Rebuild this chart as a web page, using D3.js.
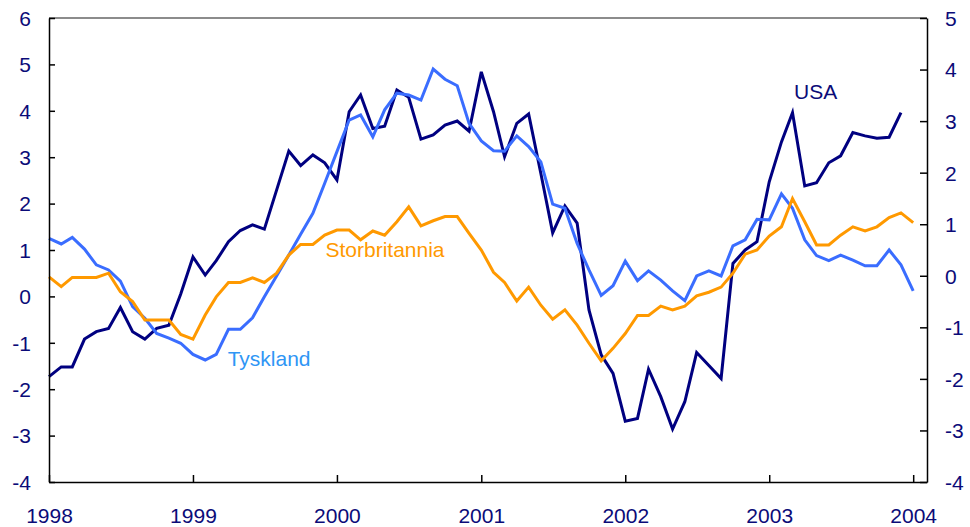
<!DOCTYPE html>
<html>
<head>
<meta charset="utf-8">
<script src="https://cdn.jsdelivr.net/npm/d3@7"></script>
<style>
  body { margin: 0; background: #fff; }
  svg { display: block; font-family: Arial, "Liberation Sans", sans-serif; }
  .tick text { fill: #0b0b78; font-size: 21px; }
</style>
</head>
<body>
<svg></svg>
<script>
const width = 970;
const height = 527;
const margin = { top: 18, right: 43, bottom: 45, left: 49 };

// months Jan 1998 .. Jan 2004
const months = d3.timeMonth.range(new Date(1998, 0, 1), new Date(2004, 1, 1));

const usa = [
  -1.73, -1.52, -1.52, -0.92, -0.76, -0.69, -0.24, -0.76, -0.92, -0.69, -0.62, 0.05,
  0.85, 0.46, 0.77, 1.18, 1.42, 1.54, 1.45, 2.29, 3.13, 2.82, 3.05, 2.88,
  2.51, 3.98, 4.34, 3.62, 3.67, 4.45, 4.29, 3.39, 3.48, 3.69, 3.78, 3.56,
  4.84, 3.98, 3.01, 3.73, 3.93, 2.65, 1.37, 1.95, 1.58, -0.29, -1.26, -1.66,
  -2.69, -2.63, -1.57, -2.16, -2.86, -2.27, -1.21, -1.49, -1.77, 0.71, 1.00, 1.18,
  2.47, 3.33, 3.96, 2.38, 2.45, 2.88, 3.03, 3.53, 3.46, 3.41, 3.43, 3.96
];

const tyskland = [
  1.25, 1.13, 1.27, 1.02, 0.68, 0.57, 0.33, -0.22, -0.47, -0.80, -0.90, -1.01,
  -1.25, -1.37, -1.25, -0.71, -0.71, -0.46, -0.01, 0.44, 0.89, 1.34, 1.79, 2.44,
  3.12, 3.80, 3.91, 3.44, 4.02, 4.38, 4.34, 4.23, 4.90, 4.68, 4.54, 3.73,
  3.35, 3.14, 3.13, 3.46, 3.23, 2.90, 1.99, 1.90, 1.14, 0.57, 0.02, 0.23,
  0.76, 0.34, 0.55, 0.35, 0.12, -0.09, 0.44, 0.55, 0.44, 1.09, 1.22, 1.66,
  1.65, 2.21, 1.90, 1.22, 0.88, 0.77, 0.89, 0.78, 0.66, 0.66, 1.00, 0.68, 0.12
];

const storbritannia = [
  0.42, 0.21, 0.41, 0.41, 0.41, 0.50, 0.10, -0.11, -0.51, -0.51, -0.51, -0.82,
  -0.92, -0.40, -0.01, 0.30, 0.30, 0.40, 0.30, 0.50, 0.89, 1.12, 1.12, 1.32,
  1.43, 1.43, 1.22, 1.41, 1.32, 1.61, 1.93, 1.52, 1.63, 1.72, 1.72, 1.36,
  1.00, 0.52, 0.30, -0.10, 0.20, -0.19, -0.49, -0.29, -0.62, -1.01, -1.39, -1.12,
  -0.80, -0.41, -0.41, -0.21, -0.29, -0.21, 0.01, 0.09, 0.20, 0.50, 0.91, 1.00,
  1.30, 1.50, 2.11, 1.61, 1.11, 1.11, 1.32, 1.50, 1.41, 1.50, 1.70, 1.80, 1.59
];

const leftTicks = [-4, -3, -2, -1, 0, 1, 2, 3, 4, 5, 6];
const rightTicks = [-4, -3, -2, -1, 0, 1, 2, 3, 4, 5];
const yearTicks = [1998, 1999, 2000, 2001, 2002, 2003, 2004];

const series = [
  { name: 'USA', values: usa, color: '#000080', labelColor: '#0b0b78', label: [new Date(2003, 2, 5), 4.25] },
  { name: 'Tyskland', values: tyskland, color: '#3a6dff', labelColor: '#2f96f5', label: [new Date(1999, 2, 30), -1.5] },
  { name: 'Storbritannia', values: storbritannia, color: '#ff9900', labelColor: '#ff9900', label: [new Date(1999, 11, 3), 0.85] }
];

const svg = d3.select('svg')
  .attr('width', width)
  .attr('height', height);

const xScale = d3.scaleTime()
  .domain([new Date(1998, 0, 1), new Date(2004, 1, 5)])
  .range([margin.left, width - margin.right]);

const yScale = d3.scaleLinear()
  .domain([-4, 6])
  .range([height - margin.bottom, margin.top]);

const yRight = d3.scaleLinear()
  .domain([-4, 5])
  .range([height - margin.bottom, margin.top]);

// top frame line
svg.append('line')
  .attr('x1', margin.left).attr('x2', width - margin.right)
  .attr('y1', margin.top).attr('y2', margin.top)
  .attr('stroke', '#666').attr('stroke-width', 1.5);

const line = d3.line()
  .x((d, i) => xScale(months[i]))
  .y(d => yScale(d));

series.forEach(s => {
  svg.append('path')
    .datum(s.values)
    .attr('fill', 'none')
    .attr('stroke', s.color)
    .attr('stroke-width', 3)
    .attr('stroke-linejoin', 'miter')
    .attr('d', line);
  svg.append('text')
    .attr('x', xScale(s.label[0]))
    .attr('y', yScale(s.label[1]))
    .attr('fill', s.labelColor)
    .attr('font-size', 21)
    .text(s.name);
});

// plain hyphen for negatives, like the original
const numFormat = d => String(d);

const xAxis = d3.axisBottom(xScale)
  .tickValues(yearTicks.map(y => new Date(y, 0, 1)))
  .tickFormat(d3.timeFormat('%Y'))
  .tickSizeInner(-7).tickSizeOuter(0).tickPadding(26);

const yAxis = d3.axisLeft(yScale)
  .tickValues(leftTicks)
  .tickFormat(numFormat)
  .tickSizeInner(-6).tickSizeOuter(0).tickPadding(18);

const yAxisRight = d3.axisRight(yRight)
  .tickValues(rightTicks)
  .tickFormat(numFormat)
  .tickSizeInner(-7).tickSizeOuter(0).tickPadding(18);

svg.append('g')
  .attr('id', 'x-axis')
  .attr('transform', `translate(0,${height - margin.bottom})`)
  .call(xAxis);

svg.append('g')
  .attr('id', 'y-axis')
  .attr('transform', `translate(${margin.left},0)`)
  .call(yAxis);

svg.append('g')
  .attr('id', 'y-axis-right')
  .attr('transform', `translate(${width - margin.right},0)`)
  .call(yAxisRight);

svg.selectAll('.domain, .tick line')
  .attr('stroke', '#000')
  .attr('stroke-width', 1.5);
svg.selectAll('.tick text').attr('font-size', 21);
svg.selectAll('#y-axis .tick text, #y-axis-right .tick text').attr('dy', '0.35em');
</script>
</body>
</html>
